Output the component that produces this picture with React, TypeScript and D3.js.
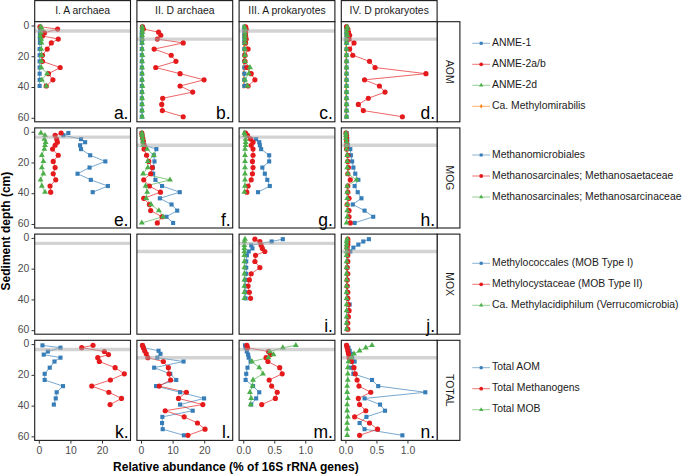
import React from "react";
import * as d3 from "d3";

// ---------- DATA ----------
const depthA = [0.5, 2, 4.5, 6.5, 8.5, 11, 15, 19, 23, 27, 31, 35, 39];
const depthD = [0.5, 2, 4, 6, 8.5, 11, 15, 19, 23, 27, 31, 35, 39, 43, 47, 51, 55, 59];

// AOM
const aAnme1 = [0.3, 0.3, 0.2, 0.2, 0.2, 0.2, 0.1, 0.1, 0.1, 0.1, 0.1, 0.1, 0.1];
const aAnme2ab = [0.2, 5.8, 1.6, 1.0, 6.0, 3.8, 2.5, 1.0, 1.0, 6.6, 2.9, 4.3, 2.2];
const aAnme2d = [0.4, 0.9, 0.5, 0.3, 0.6, 0.7, 0.6, 0.7, 0.6, 0.6, 2.5, 0.8, 2.2];

const bAnme1 = [0.3, 0.2, 0.1, 0.1, 0.1, 0.1, 0.1, 0.1, 0.1, 0.1, 0.1, 0.1, 0.1, 0.1, 0.1, 0.1, 0.1, 0.1];
const bAnme2ab = [0.3, 0.6, 5.4, 6.1, 5.0, 13.2, 4.0, 9.4, 10.9, 4.5, 12.2, 19.8, 12.2, 16.2, 6.7, 6.4, 6.6, 13.2];
const bAnme2d = [0.2, 0.3, 0.3, 0.2, 0.3, 0.2, 0.2, 0.3, 0.2, 0.2, 0.2, 0.2, 0.3, 0.2, 0.2, 0.2, 0.2, 0.2];

const cAnme1 = [0.01, 0.01, 0.01, 0.01, 0.01, 0.01, 0.01, 0.01, 0.01, 0.01, 0.01, 0.01, 0.01];
const cAnme2ab = [0.03, 0.04, 0.03, 0.03, 0.04, 0.03, 0.07, 0.02, 0.02, 0.05, 0.12, 0.18, 0.07];
const cAnme2d = [0.01, 0.02, 0.02, 0.02, 0.02, 0.02, 0.02, 0.02, 0.02, 0.1, 0.08, 0.02, 0.06];
const cMethylomirabilis = [0.01, 0.01, 0.01, 0.0, 0.01, 0.0, 0.0, 0.0, 0.0, 0.0, 0.0, 0.0, 0.0];

const dAnme1 = [0.01, 0.01, 0.01, 0.01, 0.01, 0.01, 0.01, 0.01, 0.01, 0.01, 0.01, 0.01, 0.01, 0.01, 0.01, 0.01, 0.01, 0.01];
const dAnme2ab = [0.01, 0.03, 0.04, 0.06, 0.05, 0.13, 0.06, 0.11, 0.38, 0.47, 1.29, 0.30, 0.54, 0.63, 0.36, 0.20, 0.28, 0.91];
const dAnme2d = [0.02, 0.02, 0.01, 0.02, 0.01, 0.01, 0.01, 0.01, 0.01, 0.01, 0.01, 0.01, 0.01, 0.01, 0.01, 0.01, 0.01, 0.01];
const dMethylomirabilis = [0.0, 0.0, 0.0, 0.0, 0.0, 0.0, 0.0, 0.0, 0.0, 0.0, 0.0, 0.0, 0.0, 0.0, 0.0, 0.0, 0.0, 0.0];

// MOG
const eMicro = [9.2, 7.6, 13.2, 14.5, 12.9, 13.2, 16.1, 20.9, 15.9, 12.1, 16.3, 21.7, 16.9];
const eSaeta = [6.9, 5.0, 5.5, 5.7, 5.0, 4.2, 6.0, 4.4, 5.0, 4.4, 5.2, 3.4, 3.6];
const eSarc = [0.5, 1.8, 1.6, 2.0, 1.8, 1.6, 0.8, 1.3, 0.8, 1.3, 0.4, 0.8, 1.8];

const fMicro = [0.1, 0.2, 0.3, 0.5, 0.9, 4.7, 3.9, 4.1, 3.6, 3.7, 4.4, 6.5, 12.1, 5.8, 9.5, 11.3, 7.9, 10.0];
const fSaeta = [0.1, 0.2, 0.4, 0.6, 0.8, 0.8, 1.6, 2.3, 3.4, 2.9, 0.7, 2.5, 6.0, 0.7, 2.5, 2.9, 6.5, 5.0];
const fSarc = [0.1, 0.2, 0.3, 0.4, 0.5, 1.8, 3.9, 2.0, 2.0, 0.5, 9.0, 1.3, 1.8, 1.5, 3.0, 5.5, 6.8, 0.1];

const gMicro = [0.02, 0.05, 0.2, 0.25, 0.26, 0.28, 0.41, 0.41, 0.3, 0.34, 0.38, 0.42, 0.23];
const gSaeta = [0.03, 0.06, 0.11, 0.15, 0.12, 0.15, 0.15, 0.14, 0.15, 0.14, 0.12, 0.07, 0.05];
const gSarc = [0.01, 0.02, 0.03, 0.03, 0.03, 0.02, 0.02, 0.02, 0.02, 0.02, 0.02, 0.02, 0.01];

const hMicro = [0.01, 0.01, 0.02, 0.02, 0.03, 0.07, 0.08, 0.1, 0.12, 0.15, 0.2, 0.14, 0.19, 0.25, 0.11, 0.3, 0.44, 0.14];
const hSaeta = [0.0, 0.01, 0.01, 0.01, 0.01, 0.01, 0.03, 0.03, 0.04, 0.03, 0.07, 0.03, 0.03, 0.05, 0.02, 0.05, 0.05, 0.07];
const hSarc = [0.0, 0.0, 0.0, 0.01, 0.01, 0.01, 0.02, 0.02, 0.02, 0.03, 0.17, 0.02, 0.02, 0.02, 0.02, 0.02, 0.02, 0.01];

// MOX
const iType1 = [0.63, 0.45, 0.12, 0.14, 0.08, 0.05, 0.04, 0.04, 0.04, 0.03, 0.03, 0.03, 0.03];
const iType2 = [0.18, 0.26, 0.28, 0.30, 0.34, 0.19, 0.18, 0.26, 0.12, 0.09, 0.07, 0.09, 0.11];
const iVerruco = [0.02, 0.01, 0.01, 0.01, 0.01, 0.01, 0.01, 0.01, 0.01, 0.01, 0.01, 0.01, 0.01];

const jType1 = [0.37, 0.28, 0.2, 0.12, 0.07, 0.03, 0.03, 0.02, 0.02, 0.02, 0.02, 0.02, 0.03, 0.06, 0.04, 0.03, 0.02, 0.02];
const jType2 = [0.03, 0.03, 0.03, 0.02, 0.03, 0.03, 0.03, 0.02, 0.03, 0.02, 0.02, 0.03, 0.03, 0.04, 0.05, 0.04, 0.03, 0.03];
const jVerruco = [0.02, 0.01, 0.01, 0.01, 0.01, 0.01, 0.01, 0.01, 0.01, 0.01, 0.01, 0.01, 0.01, 0.01, 0.01, 0.01, 0.01, 0.01];

// TOTAL
const kAom = [1.0, 6.7, 2.7, 1.4, 6.7, 4.8, 3.3, 1.7, 1.7, 7.5, 5.5, 5.2, 4.6];
const kMethanogens = [17.0, 13.4, 20.6, 21.9, 18.5, 19.0, 24.0, 26.9, 22.5, 16.6, 22.0, 26.0, 22.4];

const lAom = [0.3, 0.6, 5.4, 6.0, 5.0, 13.3, 4.0, 9.1, 11.0, 4.6, 12.2, 19.8, 12.2, 16.2, 6.6, 6.5, 6.7, 13.4];
const lMethanogens = [0.3, 0.6, 1.0, 1.5, 2.0, 6.9, 8.5, 8.7, 9.2, 5.6, 14.2, 11.7, 19.4, 7.5, 13.5, 17.7, 20.1, 14.7];

const mAom = [0.02, 0.03, 0.05, 0.07, 0.08, 0.11, 0.06, 0.04, 0.03, 0.15, 0.25, 0.2, 0.12];
const mMethanogens = [0.05, 0.06, 0.4, 0.43, 0.36, 0.39, 0.58, 0.62, 0.41, 0.45, 0.54, 0.51, 0.29];
const mMob = [0.84, 0.63, 0.42, 0.48, 0.4, 0.13, 0.25, 0.31, 0.15, 0.14, 0.1, 0.12, 0.11];

const nAom = [0.01, 0.04, 0.06, 0.08, 0.1, 0.14, 0.08, 0.12, 0.42, 0.52, 1.28, 0.30, 0.55, 0.63, 0.33, 0.22, 0.30, 0.91];
const nMethanogens = [0.01, 0.02, 0.03, 0.04, 0.05, 0.09, 0.13, 0.15, 0.18, 0.21, 0.40, 0.20, 0.22, 0.32, 0.14, 0.38, 0.51, 0.22];
const nMob = [0.42, 0.32, 0.22, 0.13, 0.09, 0.04, 0.03, 0.03, 0.03, 0.02, 0.02, 0.03, 0.02, 0.02, 0.03, 0.02, 0.02, 0.02];

// Labels / ticks
const colTitles = ["I. A archaea", "II. D archaea", "III. A prokaryotes", "IV. D prokaryotes"];
const rowTitles = ["AOM", "MOG", "MOX", "TOTAL"];
const panelLetters = [
  ["a.", "b.", "c.", "d."],
  ["e.", "f.", "g.", "h."],
  ["", "", "i.", "j."],
  ["k.", "l.", "m.", "n."],
];
const bandDepth = [3.2, 8.5, 3.2, 8.5];
const depthTicks = [0, 20, 40, 60];
const archaeaTicks = [0, 10, 20];
const prokTicks = [0, 0.5, 1.0];
const archaeaDomain = [-1.46, 28.86];
const prokDomain = [-0.075, 1.47];
const depthDomain = [-2.8, 62.3];

const legendAOM = ["ANME-1", "ANME-2a/b", "ANME-2d", "Ca. Methylomirabilis"];
const legendMOG = ["Methanomicrobiales", "Methanosarcinales; Methanosaetaceae", "Methanosarcinales; Methanosarcinaceae"];
const legendMOX = ["Methylococcales (MOB Type I)", "Methylocystaceae (MOB Type II)", "Ca. Methylacidiphilum (Verrucomicrobia)"];
const legendTOTAL = ["Total AOM", "Total Methanogens", "Total MOB"];

// ---------- STYLE ----------
const COLORS = ["#377EB8", "#E41A1C", "#4DAF4A", "#FF7F00"];
const SYMBOLS = [d3.symbolSquare, d3.symbolCircle, d3.symbolTriangle, d3.symbolDiamond];
const SYM_SIZE = [17, 21, 15, 11];
const FONT = "'Liberation Sans', Arial, Helvetica, sans-serif";

const colX = [34.7, 136.9, 239.1, 341.3];
const rowY = [21.7, 127.9, 234.1, 340.3];
const PW = 95.8;
const PH = 100.1;

type Series = { values: number[]; depth: number[]; kind: number };

// orange series listed first so it sits underneath the others, as in the original
const panels: (Series[] | null)[][] = [
  [
    [
      { values: aAnme1, depth: depthA, kind: 0 },
      { values: aAnme2ab, depth: depthA, kind: 1 },
      { values: aAnme2d, depth: depthA, kind: 2 },
    ],
    [
      { values: bAnme1, depth: depthD, kind: 0 },
      { values: bAnme2ab, depth: depthD, kind: 1 },
      { values: bAnme2d, depth: depthD, kind: 2 },
    ],
    [
      { values: cMethylomirabilis, depth: depthA, kind: 3 },
      { values: cAnme1, depth: depthA, kind: 0 },
      { values: cAnme2ab, depth: depthA, kind: 1 },
      { values: cAnme2d, depth: depthA, kind: 2 },
    ],
    [
      { values: dMethylomirabilis, depth: depthD, kind: 3 },
      { values: dAnme1, depth: depthD, kind: 0 },
      { values: dAnme2ab, depth: depthD, kind: 1 },
      { values: dAnme2d, depth: depthD, kind: 2 },
    ],
  ],
  [
    [
      { values: eMicro, depth: depthA, kind: 0 },
      { values: eSaeta, depth: depthA, kind: 1 },
      { values: eSarc, depth: depthA, kind: 2 },
    ],
    [
      { values: fMicro, depth: depthD, kind: 0 },
      { values: fSaeta, depth: depthD, kind: 1 },
      { values: fSarc, depth: depthD, kind: 2 },
    ],
    [
      { values: gMicro, depth: depthA, kind: 0 },
      { values: gSaeta, depth: depthA, kind: 1 },
      { values: gSarc, depth: depthA, kind: 2 },
    ],
    [
      { values: hMicro, depth: depthD, kind: 0 },
      { values: hSaeta, depth: depthD, kind: 1 },
      { values: hSarc, depth: depthD, kind: 2 },
    ],
  ],
  [
    null,
    null,
    [
      { values: iType1, depth: depthA, kind: 0 },
      { values: iType2, depth: depthA, kind: 1 },
      { values: iVerruco, depth: depthA, kind: 2 },
    ],
    [
      { values: jType1, depth: depthD, kind: 0 },
      { values: jType2, depth: depthD, kind: 1 },
      { values: jVerruco, depth: depthD, kind: 2 },
    ],
  ],
  [
    [
      { values: kAom, depth: depthA, kind: 0 },
      { values: kMethanogens, depth: depthA, kind: 1 },
    ],
    [
      { values: lAom, depth: depthD, kind: 0 },
      { values: lMethanogens, depth: depthD, kind: 1 },
    ],
    [
      { values: mAom, depth: depthA, kind: 0 },
      { values: mMethanogens, depth: depthA, kind: 1 },
      { values: mMob, depth: depthA, kind: 2 },
    ],
    [
      { values: nAom, depth: depthD, kind: 0 },
      { values: nMethanogens, depth: depthD, kind: 1 },
      { values: nMob, depth: depthD, kind: 2 },
    ],
  ],
];

const legends = [legendAOM, legendMOG, legendMOX, legendTOTAL];
const legendStart = [43.3, 155, 263.3, 367.7];
const LEG_STEP = 21;

function xScaleFor(col: number) {
  const dom = col < 2 ? archaeaDomain : prokDomain;
  return d3.scaleLinear().domain(dom).range([colX[col], colX[col] + PW]);
}
function yScaleFor(row: number) {
  return d3.scaleLinear().domain(depthDomain).range([rowY[row], rowY[row] + PH]);
}

function sym(kind: number, scale = 1) {
  return d3.symbol().type(SYMBOLS[kind]).size(SYM_SIZE[kind] * scale)() as string;
}

function Panel({ row, col }: { row: number; col: number }) {
  const x = xScaleFor(col);
  const y = yScaleFor(row);
  const series = panels[row][col];
  const line = d3
    .line<[number, number]>()
    .x((d) => x(d[0]))
    .y((d) => y(d[1]));
  return (
    <g>
      <rect x={colX[col]} y={rowY[row]} width={PW} height={PH} fill="#fff" />
      {series &&
        series.map((s, i) => (
          <path
            key={"l" + i}
            d={line(s.values.map((v, k) => [v, s.depth[k]]) as [number, number][]) || ""}
            fill="none"
            stroke={COLORS[s.kind]}
            strokeWidth={0.75}
            strokeOpacity={0.9}
          />
        ))}
      {series &&
        series.map((s, i) => (
          <g key={"p" + i} fill={COLORS[s.kind]}>
            {s.values.map((v, k) => (
              <path key={k} d={sym(s.kind)} transform={`translate(${x(v)},${y(s.depth[k])})`} />
            ))}
          </g>
        ))}
      <line
        x1={colX[col]}
        x2={colX[col] + PW}
        y1={y(bandDepth[col])}
        y2={y(bandDepth[col])}
        stroke="#a8a8a8"
        strokeOpacity={0.5}
        strokeWidth={3.4}
      />
      <text
        x={colX[col] + PW - 2}
        y={rowY[row] + PH - 2.5}
        textAnchor="end"
        fontSize={17.5}
        fontFamily={FONT}
        fill="#000"
      >
        {panelLetters[row][col]}
      </text>
      <rect
        x={colX[col]}
        y={rowY[row]}
        width={PW}
        height={PH}
        fill="none"
        stroke="#1a1a1a"
        strokeWidth={1.1}
      />
    </g>
  );
}

export default function App() {
  const rows = [0, 1, 2, 3];
  const cols = [0, 1, 2, 3];
  const stripX = colX[3] + PW;
  const stripW = 22.8;
  const bottom = rowY[3] + PH;
  const midX = (colX[0] + colX[3] + PW) / 2;
  const midY = (rowY[0] + bottom) / 2;
  return (
    <svg
      width={685}
      height={474}
      style={{ position: "absolute", left: 0, top: 0, background: "#fff" }}
      fontFamily={FONT}
    >
      <rect width={685} height={474} fill="#fff" />
      {/* top strips */}
      {cols.map((c) => (
        <g key={"ts" + c}>
          <rect x={colX[c]} y={0.6} width={PW} height={rowY[0] - 0.6} fill="#fff" stroke="#1a1a1a" strokeWidth={1.1} />
          <text
            x={colX[c] + PW / 2}
            y={rowY[0] / 2 + 0.5}
            textAnchor="middle"
            dominantBaseline="middle"
            fontSize={10.4}
            fill="#1a1a1a"
          >
            {colTitles[c]}
          </text>
        </g>
      ))}
      {/* right strips */}
      {rows.map((r) => (
        <g key={"rs" + r}>
          <rect x={stripX} y={rowY[r]} width={stripW} height={PH} fill="#fff" stroke="#1a1a1a" strokeWidth={1.1} />
          <text
            transform={`translate(${stripX + stripW / 2},${rowY[r] + PH / 2}) rotate(90)`}
            textAnchor="middle"
            dominantBaseline="middle"
            fontSize={10.4}
            fill="#1a1a1a"
          >
            {rowTitles[r]}
          </text>
        </g>
      ))}
      {/* panels */}
      {rows.map((r) => cols.map((c) => <Panel key={r + "-" + c} row={r} col={c} />))}
      {/* y axes */}
      {rows.map((r) => {
        const y = yScaleFor(r);
        return (
          <g key={"ya" + r}>
            {depthTicks.map((t) => (
              <g key={t}>
                <line x1={colX[0] - 3.2} x2={colX[0]} y1={y(t)} y2={y(t)} stroke="#333" strokeWidth={1} />
                <text
                  x={colX[0] - 5.5}
                  y={y(t)}
                  textAnchor="end"
                  dominantBaseline="middle"
                  fontSize={10.4}
                  fill="#4d4d4d"
                >
                  {t}
                </text>
              </g>
            ))}
          </g>
        );
      })}
      {/* x axes */}
      {cols.map((c) => {
        const x = xScaleFor(c);
        const ticks = c < 2 ? archaeaTicks : prokTicks;
        return (
          <g key={"xa" + c}>
            {ticks.map((t) => (
              <g key={t}>
                <line x1={x(t)} x2={x(t)} y1={bottom} y2={bottom + 3.2} stroke="#333" strokeWidth={1} />
                <text x={x(t)} y={bottom + 13.2} textAnchor="middle" fontSize={10.4} fill="#4d4d4d">
                  {c < 2 ? String(t) : t.toFixed(1)}
                </text>
              </g>
            ))}
          </g>
        );
      })}
      {/* axis titles */}
      <text x={midX} y={471} textAnchor="middle" fontSize={12} fontWeight="bold" fill="#000">
        Relative abundance (% of 16S rRNA genes)
      </text>
      <text
        transform={`translate(10,${midY}) rotate(-90)`}
        textAnchor="middle"
        fontSize={12}
        fontWeight="bold"
        fill="#000"
      >
        Sediment depth (cm)
      </text>
      {/* legends */}
      {legends.map((items, gi) => (
        <g key={"lg" + gi}>
          {items.map((label, k) => {
            const cy = legendStart[gi] + k * LEG_STEP;
            return (
              <g key={k}>
                <line x1={472.3} x2={490} y1={cy} y2={cy} stroke={COLORS[k]} strokeWidth={1} strokeOpacity={0.6} />
                <path d={sym(k, 0.55)} transform={`translate(481.2,${cy})`} fill={COLORS[k]} />
                <text x={492} y={cy} dominantBaseline="middle" fontSize={10.4} fill="#1a1a1a">
                  {label}
                </text>
              </g>
            );
          })}
        </g>
      ))}
    </svg>
  );
}
